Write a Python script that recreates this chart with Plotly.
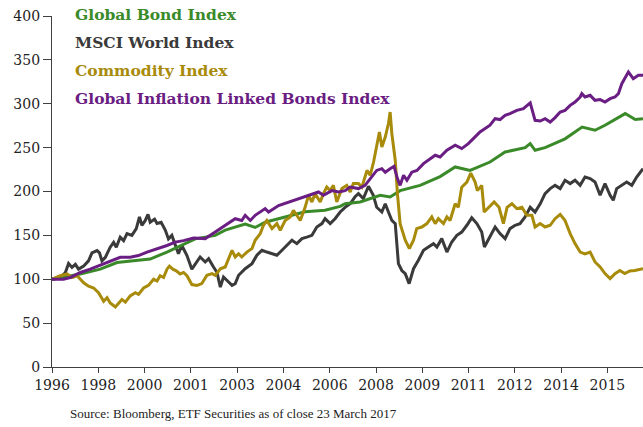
import plotly.graph_objects as go

# ---- data (x = months since Jan 1996) ----
series_names = ["Global Bond Index", "MSCI World Index", "Commodity Index",
                "Global Inflation Linked Bonds Index"]

bond_x = [0, 11.6, 19.8, 26.7, 33.4, 40.3, 47.2, 53.9, 58.8, 67.0, 71.1, 79.3, 83.4, 87.5,
          95.7, 103.9, 112.1, 118.3, 120.3, 126.5, 134.7, 138.8, 142.9, 151.1, 159.3, 165.5,
          171.6, 179.8, 186.0, 194.2, 196.3, 198.3, 202.4, 206.5, 210.6, 217.6, 222.9, 227.0,
          235.3, 239.4, 242.6]
bond_y = [100, 106, 111.5, 119, 121, 123, 131, 140, 146, 150, 156, 163, 159, 165,
          171, 177, 178.6, 183, 186, 188, 195.7, 193.7, 201, 207, 217, 228,
          224, 233.6, 245, 250, 254.6, 247, 250, 254.6, 260, 273.5, 269.8, 275.5,
          288.8, 282, 283]

msci_x = [0, 3.4, 5.5, 6.8, 8.2, 9.6, 10.9, 13.0, 15.0, 16.4, 18.5, 19.5, 20.5, 21.9, 23.9,
          25.3, 26.4, 28.0, 29.4, 30.8, 32.8, 34.6, 35.9, 36.9, 38.3, 39.4, 40.3, 42.1, 43.1,
          44.8, 46.5, 47.8, 49.2, 51.0, 51.9, 53.3, 55.4, 57.4, 59.5, 60.8, 62.9, 64.3, 66.3,
          67.7, 69.1, 70.4, 72.5, 73.9, 75.2, 76.6, 79.3, 82.1, 84.1, 86.2, 88.2, 90.3, 92.3,
          94.4, 96.4, 98.5, 100.5, 102.6, 104.6, 106.7, 108.7, 110.8, 112.1, 114.2, 116.2,
          118.3, 120.3, 122.4, 124.4, 125.8, 127.8, 129.9, 131.9, 133.3, 135.4, 136.8, 138.1,
          139.5, 140.9, 142.2, 143.6, 145.0, 146.6, 148.4, 150.4, 152.5, 154.5, 156.6, 158.0,
          160.0, 162.1, 164.1, 166.2, 168.2, 170.3, 172.3, 174.4, 176.4, 177.5, 179.8, 181.9,
          183.9, 186.0, 188.0, 190.1, 192.1, 194.2, 196.3, 198.3, 200.4, 202.4, 204.5, 206.5,
          208.6, 210.6, 212.7, 214.7, 216.8, 218.8, 220.9, 222.9, 225.0, 227.0, 229.1, 230.4,
          231.8, 233.9, 235.9, 238.0, 240.0, 242.6]
msci_y = [100, 102, 107.7, 118, 113.5, 117, 111.5, 115, 121, 130, 132.7, 130, 121, 125, 136.5,
          142, 136.5, 148, 144, 152, 150, 157.7, 171, 161.5, 167, 174, 165, 168.5, 163.5,
          165, 156, 146, 150, 136.5, 129, 138.5, 127, 111.5, 121, 125.4, 119.7, 123.5, 114,
          108, 91, 102.6, 96.9, 93, 95, 104.5, 112, 117.8, 127.3, 133, 131, 129, 127.3,
          133, 138.7, 144.4, 140.6, 146.3, 148, 150, 159.5, 163.4, 169, 163.4, 169,
          176.6, 182, 186, 194, 197.6, 192, 206, 195.7, 182, 176.6, 186, 176.6,
          167, 163.4, 117.8, 110, 106.4, 95, 112, 121.6, 133, 136.8, 140.6, 136.8,
          146.3, 131, 142.5, 150, 153.8, 161.5, 170, 163.4, 153.8, 136.8, 148, 159.5,
          152, 146.3, 157.7, 161.5, 163.4, 171, 182, 176.6, 186, 197.6, 203.3, 207,
          203.3, 212.8, 209, 212.8, 207, 216.5, 214.7, 210.8, 195.7, 209, 195.7, 190,
          203.3, 207, 210.8, 207, 216.5, 226]

comm_x = [0, 3.4, 6.2, 8.2, 10.3, 13.0, 15.0, 17.1, 19.1, 21.2, 22.6, 23.9, 26.0, 27.3, 28.7,
          30.1, 32.1, 34.2, 35.5, 37.6, 39.6, 41.7, 43.1, 44.4, 45.8, 47.2, 48.2, 49.6, 51.0,
          52.6, 54.0, 55.4, 57.4, 59.5, 61.5, 63.6, 65.7, 67.0, 69.1, 71.1, 72.5, 73.9, 75.2,
          76.6, 77.9, 80.0, 82.1, 83.4, 85.5, 86.8, 88.2, 90.3, 92.3, 93.7, 95.7, 97.8, 99.1,
          100.5, 101.9, 103.9, 105.3, 106.7, 108.0, 110.1, 111.4, 112.8, 114.2, 115.5, 116.9,
          119.0, 121.0, 122.4, 123.7, 125.8, 127.2, 129.3, 130.6, 132.0, 133.3, 134.4, 135.4,
          136.8, 138.1, 138.8, 139.5, 140.9, 141.8, 142.9, 145.0, 146.7, 148.4, 149.7, 151.8,
          153.9, 155.9, 157.3, 158.6, 160.7, 162.1, 163.4, 165.5, 166.8, 168.2, 170.3, 171.9,
          173.7, 174.6, 176.4, 177.4, 179.5, 181.5, 183.5, 185.3, 186.8, 188.8, 190.8, 192.9,
          194.9, 197.0, 198.3, 200.4, 202.4, 204.5, 206.5, 208.6, 210.6, 212.7, 214.7, 216.8,
          218.8, 220.9, 222.9, 225.0, 227.0, 229.1, 231.1, 233.1, 235.1, 237.2, 239.2, 242.6]
comm_y = [100, 104, 106, 102, 104, 96, 92, 90, 84.6, 75, 79, 73, 68.5, 73, 77,
          74, 81, 84.6, 82.7, 90, 93, 100, 98, 104, 102, 111.5, 115, 111.5, 109.6,
          106, 107.7, 104, 94, 93, 95, 104.5, 106.4, 104.5, 112, 114, 123.5, 133, 125.4,
          129, 125.4, 131, 135, 144.4, 152, 161.5, 167, 157.7, 163.4, 155.8, 167, 171, 178.6,
          172.9, 167, 182, 195.7, 188, 197.6, 188, 197.6, 205, 201, 207, 188,
          203.3, 207, 199.4, 209, 209, 205, 224, 218.5, 233.6, 250.7, 267.8, 250.7,
          262, 277.4, 290.6, 266, 235.6, 197.6, 163.4, 144.4, 135, 144.4, 157.7, 159.5,
          163.4, 171, 163.4, 169, 163.4, 171, 167, 186, 182, 205, 210.8, 221,
          210.8, 201, 207, 176.6, 182, 188, 182, 163.4, 182, 186, 180.5, 182,
          172.9, 172.9, 159.5, 163.4, 159.5, 161.5, 169, 174, 167, 152, 140.6, 131,
          129, 131, 119.7, 114, 106.4, 100.7, 106.4, 110, 106.4, 109.4, 110, 112]

infl_x = [0, 4.7, 7.5, 11.6, 15.7, 19.8, 23.9, 28.0, 32.1, 35.5, 39.0, 43.1, 47.2, 50.6, 54.0,
          58.1, 62.9, 67.0, 71.1, 75.2, 77.9, 79.3, 81.4, 83.4, 87.5, 88.9, 93.0, 97.1, 101.2,
          105.3, 109.4, 111.4, 114.9, 117.6, 120.3, 122.4, 125.8, 128.5, 130.6, 133.3, 135.4,
          136.8, 138.8, 140.4, 141.8, 142.9, 144.3, 145.7, 147.7, 149.8, 152.5, 155.2, 157.3,
          159.3, 162.1, 165.5, 168.2, 170.9, 173.7, 175.7, 179.8, 181.9, 183.9, 186.0, 188.0,
          190.8, 193.5, 196.3, 198.3, 200.4, 202.4, 204.5, 206.5, 208.6, 210.6, 212.7, 214.7,
          216.8, 217.5, 218.8, 220.9, 222.9, 225.0, 227.0, 229.1, 231.1, 232.5, 233.9, 236.6,
          238.6, 240.7, 242.6]
infl_y = [100, 100, 102, 107.7, 111.5, 116, 121, 125, 125, 127, 131, 134.6, 138.5, 142.3, 144,
          147, 146.3, 153.8, 161.5, 169, 167, 172.9, 167, 172.9, 180.5, 176.6, 184, 188, 192,
          195.7, 199.4, 195.7, 201, 199.4, 201, 205, 203.3, 207, 214.7, 224, 226,
          222, 226, 228.7, 214.7, 207, 218.5, 212.8, 222, 224, 231.8, 237.5, 241.3,
          239.3, 247, 252.7, 248.9, 254.6, 262, 267.8, 275.5, 283, 282, 286.8, 288.8,
          292.5, 294.5, 300.9, 281.1, 280.3, 283, 279.2, 284.2, 290.6, 292.5, 298.2, 302,
          307.7, 311.5, 307.7, 309.6, 303.9, 304.7, 302, 305.8, 307.7, 311.5, 322.9, 336.2,
          328.6, 332.4, 332.4]

tick_vals = [0, 19, 38, 57, 76, 95, 114, 133, 152, 171, 190, 209, 228]
tick_text = ["1996", "1998", "2000", "2001", "2003", "2004", "2006", "2008",
             "2009", "2011", "2012", "2014", "2015"]
y_ticks = [0, 50, 100, 150, 200, 250, 300, 350, 400]

source_text = "Source: Bloomberg, ETF Securities as of close 23 March 2017"

# ---- styling ----
colors = ["#3b8a2a", "#3a3a3a", "#a88b0a", "#6a1d82"]
axis_col = "#404040"

fig = go.Figure()
order = [(1, msci_x, msci_y), (0, bond_x, bond_y), (2, comm_x, comm_y), (3, infl_x, infl_y)]
for idx, xs, ys in order:
    fig.add_trace(go.Scatter(x=xs, y=ys, mode="lines", name=series_names[idx],
                             line=dict(color=colors[idx], width=3),
                             showlegend=False, hoverinfo="skip"))

# legend as coloured text
legend_y = [1.003, 0.925, 0.846, 0.766]
for i, name in enumerate(series_names):
    fig.add_annotation(x=0.036, y=legend_y[i], xref="paper", yref="paper",
                       text="<b>" + name + "</b>", showarrow=False,
                       xanchor="left", yanchor="middle",
                       font=dict(family="DejaVu Serif", size=15.5, color=colors[i]))

fig.add_annotation(x=0.0276, y=-0.132, xref="paper", yref="paper",
                   text=source_text, showarrow=False, xanchor="left", yanchor="middle",
                   font=dict(family="Liberation Serif", size=13, color="#222222"))

fig.update_layout(
    width=643, height=427,
    margin=dict(l=52, r=0, t=16, b=60, pad=0),
    paper_bgcolor="white", plot_bgcolor="white",
    font=dict(family="DejaVu Serif", size=14, color="#222222"),
    xaxis=dict(range=[0, 242.6], tickmode="array", tickvals=tick_vals, ticktext=tick_text,
               showgrid=False, zeroline=False, showline=True, linecolor=axis_col,
               linewidth=1.3, ticks="outside", ticklen=5, tickcolor=axis_col,
               automargin=False,
               tickfont=dict(family="DejaVu Serif", size=14, color="#222222")),
    yaxis=dict(range=[0, 400], tickmode="array", tickvals=y_ticks,
               showgrid=False, zeroline=False, showline=True, linecolor=axis_col,
               linewidth=1.3, ticks="outside", ticklen=8, tickcolor=axis_col,
               automargin=False,
               tickfont=dict(family="DejaVu Serif", size=14, color="#222222")),
)

fig.write_html("out.html", config={"displayModeBar": False},
               post_script="document.body.style.margin='0';document.body.style.overflow='hidden';")
